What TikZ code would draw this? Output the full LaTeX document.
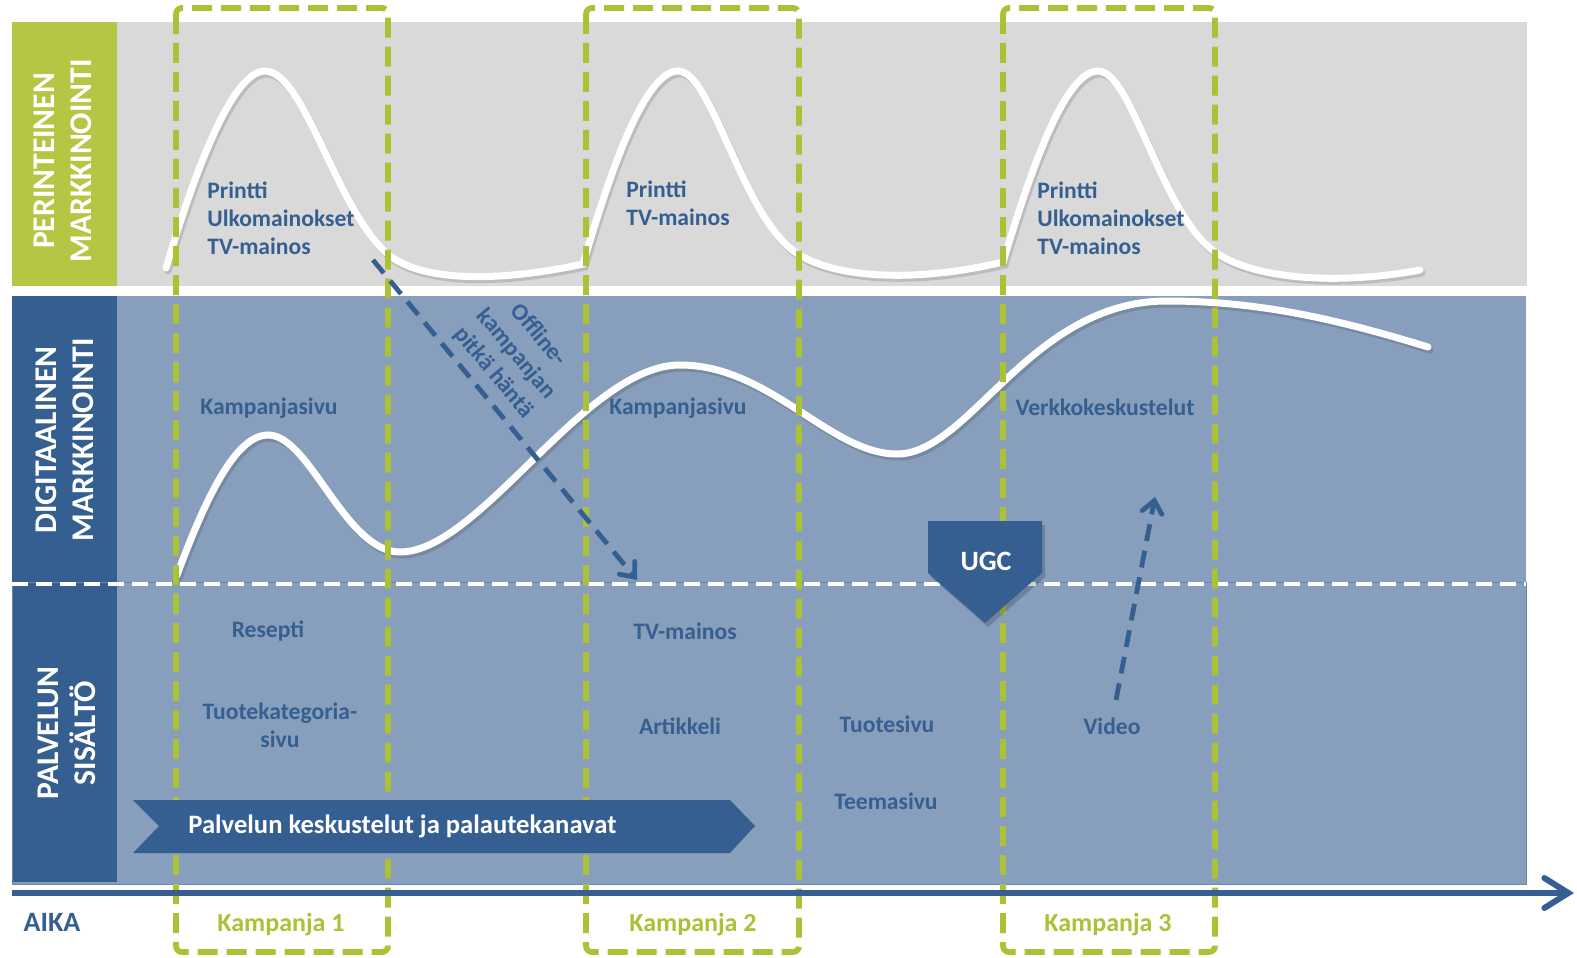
\documentclass[tikz,border=0pt]{standalone}
\usepackage{fontspec}
\setmainfont{Carlito}
\usetikzlibrary{arrows.meta}

\definecolor{kgreen}{HTML}{B4C643}
\definecolor{kdash}{HTML}{ABC136}
\definecolor{kblue}{HTML}{365F91}
\definecolor{klight}{HTML}{879EBC}
\definecolor{kgrey}{HTML}{D9D9D9}
\definecolor{kedge}{HTML}{6C86AA}

\tikzset{
	bandtext/.style={font=\fontsize{11.8}{14}\selectfont\bfseries, text=kblue, inner sep=0pt},
	sidelabel/.style={font=\fontsize{15.8}{18.5}\selectfont\bfseries, text=white, align=center, rotate=90, inner sep=0pt},
	camplabel/.style={font=\fontsize{13}{15}\selectfont\bfseries, text=kdash, inner sep=0pt},
	wave/.style={white, line width=3.5pt, line cap=round},
	waveshadow/.style={black, opacity=0.13, line width=3.5pt, line cap=round},
	campaign/.style={kdash, line width=2.9pt, dash pattern=on 10pt off 4.5pt, rounded corners=3pt},
	tailarrow/.style={kblue, line width=2.4pt, dash pattern=on 8.5pt off 5pt, -{Straight Barb[length=6pt,width=10pt,line cap=round]}},
	topwave/.style={insert path={(166,268) .. controls (188,194) and (229,71) .. (265,71)
		.. controls (305,71) and (338,215) .. (390,256)
		.. controls (425,282) and (500,282) .. (583,264)
		.. controls (605,190) and (642,71) .. (678,71)
		.. controls (712,71) and (742,215) .. (795,252)
		.. controls (835,280) and (920,282) .. (1003,262)
		.. controls (1025,190) and (1062,71) .. (1098,71)
		.. controls (1132,71) and (1162,215) .. (1215,252)
		.. controls (1255,280) and (1340,285) .. (1420,270)}},
	digiwave/.style={insert path={(177,575) .. controls (205,500) and (235,435) .. (268,435)
		.. controls (310,435) and (345,552) .. (400,552)
		.. controls (480,552) and (585,365) .. (680,365)
		.. controls (770,365) and (830,454) .. (897,454)
		.. controls (970,454) and (1030,301) .. (1167,301)
		.. controls (1260,301) and (1340,320) .. (1428,347)}},
}

\begin{document}
\begin{tikzpicture}[x=0.5pt,y=-0.5pt]
	\useasboundingbox (0,0) rectangle (1577,957);

	% bands
	\fill[kgrey] (12,22) rectangle (1527,286);
	\fill[kgreen] (12,22) rectangle (117,286);
	\fill[klight] (12,296) rectangle (1526,884);
	\fill[kblue] (12,296) rectangle (117,882);
	\draw[kedge, line width=0.4pt] (12,582) rectangle (1526,884);
	\draw[white, line width=1.8pt, dash pattern=on 8pt off 4pt] (12,584) -- (1526,584);

	% curves
	\draw[waveshadow, shift={(2,3)}, topwave];
	\draw[wave, topwave];
	\draw[waveshadow, shift={(2,3)}, digiwave];
	\draw[wave, digiwave];

	% campaigns
	\draw[campaign] (176,8) rectangle (388,952);
	\draw[campaign] (586,8) rectangle (799,952);
	\draw[campaign] (1003,8) rectangle (1215,952);

	% side labels
	\node[sidelabel] (perinteinen) at (63,161) {PERINTEINEN\\MARKKINOINTI};
	\node[sidelabel] (digitaalinen) at (65,440) {DIGITAALINEN\\MARKKINOINTI};
	\node[sidelabel] (palvelun) at (67,733) {PALVELUN\\SISÄLTÖ};

	% traditional
	\node[bandtext, anchor=west, align=left] (media1) at (207,218) {Printti\\Ulkomainokset\\TV-mainos};
	\node[bandtext, anchor=west, align=left] (media2) at (626,203) {Printti\\TV-mainos};
	\node[bandtext, anchor=west, align=left] (media3) at (1037,218) {Printti\\Ulkomainokset\\TV-mainos};

	% digital
	\node[bandtext] (kampsivu1) at (269,408) {Kampanjasivu};
	\node[bandtext] (kampsivu2) at (678,408) {Kampanjasivu};
	\node[bandtext] (verkko) at (1105,407) {Verkkokeskustelut};

	% content
	\node[bandtext] (resepti) at (268,631) {Resepti};
	\node[bandtext, align=center] (kategoria) at (280,725) {Tuotekategoria-\\sivu};
	\node[bandtext] (tvmainos) at (685,631) {TV-mainos};
	\node[bandtext] (artikkeli) at (680,726) {Artikkeli};
	\node[bandtext] (tuotesivu) at (887,724) {Tuotesivu};
	\node[bandtext] (teemasivu) at (886,801) {Teemasivu};
	\node[bandtext] (video) at (1112,726) {Video};

	% banner
	\fill[kblue] (133,800) -- (730,800) -- (755,826) -- (730,853) -- (133,853) -- (159,826) -- cycle;
	\node[anchor=west, inner sep=0pt, text=white, font=\fontsize{13.3}{16}\selectfont\bfseries] (kanavat) at (188,826) {Palvelun keskustelut ja palautekanavat};

	% long tail and video
	\coordinate (tailfrom) at (373,260);
	\coordinate (tailto) at (637,580);
	\draw[tailarrow] (tailfrom) -- (tailto);
	\node[bandtext, align=center, rotate=-50, font=\fontsize{11.8}{14.6}\selectfont\bfseries] (offline) at (516,354) {Offline-\\kampanjan\\pitkä häntä};
	\coordinate (videofrom) at (1116,700);
	\coordinate (videoto) at (1155,497);
	\draw[tailarrow] (videofrom) -- (videoto);

	% UGC
	\fill[black, opacity=0.18] (931,525) -- (1045,525) -- (1045,577) -- (988,627) -- (931,577) -- cycle;
	\fill[kblue] (928,521) -- (1042,521) -- (1042,573) -- (985,623) -- (928,573) -- cycle;
	\node[inner sep=0pt, text=white, font=\fontsize{14}{16}\selectfont\bfseries] (ugc) at (986,561) {UGC};

	% time axis
	\coordinate (axisstart) at (12,893);
	\coordinate (axisend) at (1574,893);
	\draw[kblue, line width=3pt, -{Straight Barb[length=12pt,width=15pt,line cap=round]}] (axisstart) -- (axisend);
	\node[inner sep=0pt, text=kblue, font=\fontsize{14}{16}\selectfont\bfseries] (aika) at (52,922) {AIKA};
	\node[camplabel] (kampanja1) at (281,925) {Kampanja 1};
	\node[camplabel] (kampanja2) at (693,925) {Kampanja 2};
	\node[camplabel] (kampanja3) at (1108,925) {Kampanja 3};
\end{tikzpicture}
\end{document}
